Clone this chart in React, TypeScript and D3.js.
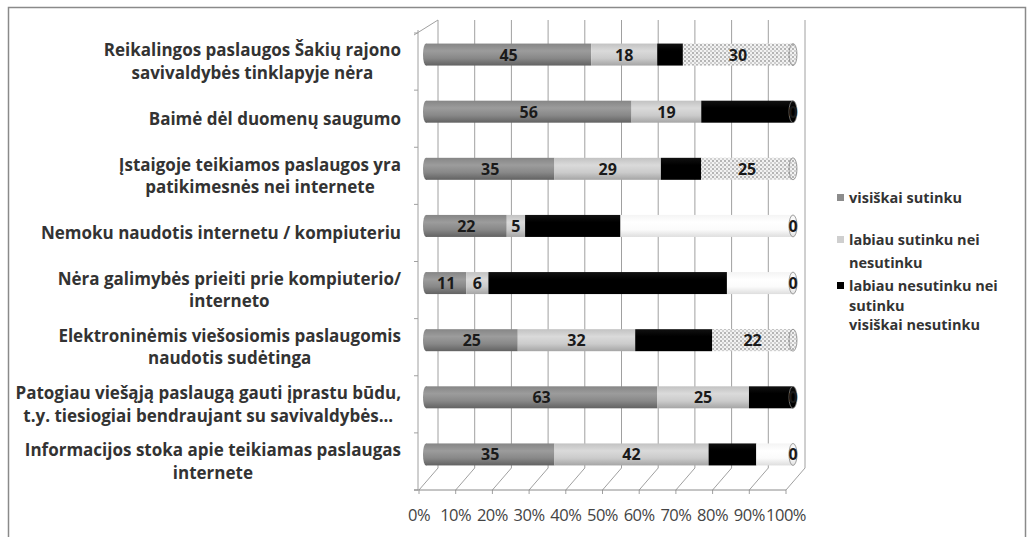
import React, { useEffect, useRef } from 'react';
import * as d3 from 'd3';

// categories top -> bottom, lines split with \n as in the picture
const categories = [
  'Reikalingos paslaugos Šakių rajono\nsavivaldybės tinklapyje nėra',
  'Baimė dėl duomenų saugumo',
  'Įstaigoje teikiamos paslaugos yra\npatikimesnės nei internete',
  'Nemoku naudotis internetu / kompiuteriu',
  'Nėra galimybės prieiti prie kompiuterio/\ninterneto',
  'Elektroninėmis viešosiomis paslaugomis\nnaudotis sudėtinga',
  'Patogiau viešąją paslaugą gauti įprastu būdu,\nt.y. tiesiogiai bendraujant su savivaldybės...',
  'Informacijos stoka apie teikiamas paslaugas\ninternete',
];

const visiskaiSutinku = [45, 56, 35, 22, 11, 25, 63, 35];
const labiauSutinku = [18, 19, 29, 5, 6, 32, 25, 42];
const labiauNesutinku = [7, 25, 11, 26, 65, 21, 12, 13];
const blank = [0, 0, 0, 47, 18, 0, 0, 10];
const visiskaiNesutinku = [30, 0, 25, 0, 0, 22, 0, 0];

const legendNames = [
  ['visiškai sutinku'],
  ['labiau sutinku nei', 'nesutinku'],
  ['labiau nesutinku nei', 'sutinku'],
  ['visiškai nesutinku'],
];

const ticks = [0, 10, 20, 30, 40, 50, 60, 70, 80, 90, 100];

const width = 1027;
const height = 537;

function Chart() {
  const ref = useRef<SVGSVGElement>(null);

  useEffect(() => {
    const svg = d3.select(ref.current);
    svg.selectAll('*').remove();

    const font = '"Open Sans", Lato, sans-serif';
    const dx = 19, dy = -22;     // depth of the 3d box
    const bdx = 7, bdy = -7;     // bars sit a bit back

    const x = d3.scaleLinear().domain([0, 100]).range([419, 786]);
    const y = d3.scaleBand().domain(categories).range([33, 490]);

    const defs = svg.append('defs');
    const grad = (id: string, stops: string[]) => {
      const g = defs.append('linearGradient').attr('id', id)
        .attr('x1', 0).attr('y1', 0).attr('x2', 0).attr('y2', 1);
      stops.forEach((c, i) => g.append('stop')
        .attr('offset', i / (stops.length - 1)).attr('stop-color', c));
    };
    grad('g1', ['#868686', '#9c9c9c', '#888888', '#626262']);
    grad('g2', ['#c2c2c2', '#dadada', '#cbcbcb', '#a5a5a5']);
    grad('g3', ['#111', '#000', '#000', '#000']);
    grad('g5', ['#f4f4f4', '#ffffff', '#fbfbfb', '#dedede']);
    const pat = defs.append('pattern').attr('id', 'p4')
      .attr('width', 4).attr('height', 4).attr('patternUnits', 'userSpaceOnUse');
    pat.append('rect').attr('width', 4).attr('height', 4).attr('fill', '#f2f2f2');
    pat.append('rect').attr('width', 2).attr('height', 2).attr('fill', '#b5b5b5');
    pat.append('rect').attr('x', 2).attr('y', 2).attr('width', 2).attr('height', 2).attr('fill', '#cfcfcf');

    // outer frame
    svg.append('rect').attr('x', 8.5).attr('y', 7.5).attr('width', 1017).attr('height', 540)
      .attr('fill', '#fff').attr('stroke', '#8a8a8a').attr('stroke-width', 1.5);

    const grid = svg.append('g').attr('stroke', '#a0a0a0').attr('fill', 'none').attr('stroke-width', 1);
    const top = 20, back = 490 + dy;
    // back wall verticals and floor diagonals
    ticks.forEach(t => {
      grid.append('line').attr('x1', x(t) + dx).attr('x2', x(t) + dx).attr('y1', top).attr('y2', back);
      grid.append('line').attr('x1', x(t)).attr('y1', 490).attr('x2', x(t) + dx).attr('y2', back);
      grid.append('line').attr('x1', x(t)).attr('x2', x(t)).attr('y1', 490).attr('y2', 494);
    });
    // side wall
    grid.append('line').attr('x1', x(0) - 1).attr('x2', x(0) - 1).attr('y1', 30).attr('y2', 490);
    grid.append('line').attr('x1', x(0) - 5).attr('y1', 35).attr('x2', x(0) + dx).attr('y2', top);
    categories.forEach(c => {
      grid.append('line').attr('x1', x(0) - 5).attr('x2', x(0) - 1)
        .attr('y1', y(c)!).attr('y2', y(c)!);
    });
    grid.append('line').attr('x1', x(0) - 5).attr('x2', x(0) - 1).attr('y1', 490).attr('y2', 490);
    grid.append('line').attr('x1', x(0) - 5).attr('x2', x(100)).attr('y1', 490).attr('y2', 490).attr('stroke', '#8a8a8a');

    // bars
    const series = [
      { v: visiskaiSutinku, fill: 'url(#g1)', label: true },
      { v: labiauSutinku, fill: 'url(#g2)', label: true },
      { v: labiauNesutinku, fill: 'url(#g3)', label: false },
      { v: blank, fill: 'url(#g5)', label: false },
      { v: visiskaiNesutinku, fill: 'url(#p4)', label: true },
    ];
    const bh = 22;
    const bars = svg.append('g');
    const labels = svg.append('g').attr('font-family', font).attr('font-weight', 700)
      .attr('font-size', 16).attr('fill', '#1a1a1a').attr('text-anchor', 'middle');
    categories.forEach((c, i) => {
      const cy = y(c)! + y.bandwidth() / 2 + bdy;
      let acc = 0;
      let last = 'url(#g1)';
      series.forEach(s => {
        const val = s.v[i];
        const x0 = x(acc) + bdx, x1 = x(acc + val) + bdx;
        if (val > 0) {
          bars.append('rect').attr('x', x0).attr('y', cy - bh / 2)
            .attr('width', x1 - x0).attr('height', bh).attr('fill', s.fill);
          last = s.fill;
        }
        if (s.label) {
          labels.append('text').attr('x', (x0 + x1) / 2).attr('y', cy + 6).text(val);
        }
        acc += val;
      });
      // left rounded end and right cap
      bars.append('ellipse').attr('cx', x(0) + bdx).attr('cy', cy).attr('rx', 3).attr('ry', bh / 2)
        .attr('fill', 'url(#g1)');
      bars.append('ellipse').attr('cx', x(100) + bdx).attr('cy', cy).attr('rx', 4).attr('ry', bh / 2)
        .attr('fill', last).attr('stroke', '#888').attr('stroke-width', 0.8);
    });
    labels.raise();

    // category labels: centred lines, block right-aligned to x=400
    const cat = svg.append('g').attr('font-family', font).attr('font-weight', 700)
      .attr('font-size', 17).attr('fill', '#333');
    categories.forEach(c => {
      const lines = c.split('\n');
      const cy = y(c)! + y.bandwidth() / 2;
      const lh = 22.5;
      const g = cat.append('g');
      const texts = lines.map((l, k) => g.append('text')
        .attr('y', cy + (k - (lines.length - 1) / 2) * lh + 6).text(l));
      const w = Math.max(...texts.map(t => (t.node() as SVGTextElement).getComputedTextLength()));
      const cx = 401 - w / 2;
      texts.forEach(t => t.attr('x', cx).attr('text-anchor', 'middle'));
    });

    // x tick labels
    svg.append('g').attr('font-family', font).attr('font-size', 16.5).attr('fill', '#444')
      .attr('text-anchor', 'middle')
      .selectAll('text').data(ticks).join('text')
      .attr('x', d => x(d)).attr('y', 521).attr('letter-spacing', -0.5).text(d => d + '%');

    // legend
    const lg = svg.append('g').attr('font-family', font).attr('font-weight', 700)
      .attr('font-size', 14.5).attr('fill', '#333');
    const swatches = ['#8c8c8c', '#cfcfcf', '#000', 'url(#p4)'];
    const ys = [[198], [240, 263], [286, 306], [325]];
    legendNames.forEach((names, i) => {
      if (i < 3) {
        lg.append('rect').attr('x', 837).attr('y', ys[i][0] - 4).attr('width', 7).attr('height', 7)
          .attr('fill', swatches[i]);
      }
      names.forEach((n, k) => lg.append('text').attr('x', 849).attr('y', ys[i][k] + 5).text(n));
    });
  }, []);

  return <svg ref={ref} width={width} height={height} viewBox={`0 0 ${width} ${height}`} />;
}

export default function App() {
  return (
    <div style={{ position: 'absolute', left: 0, top: 0, width, height, background: '#fff' }}>
      <Chart />
    </div>
  );
}
